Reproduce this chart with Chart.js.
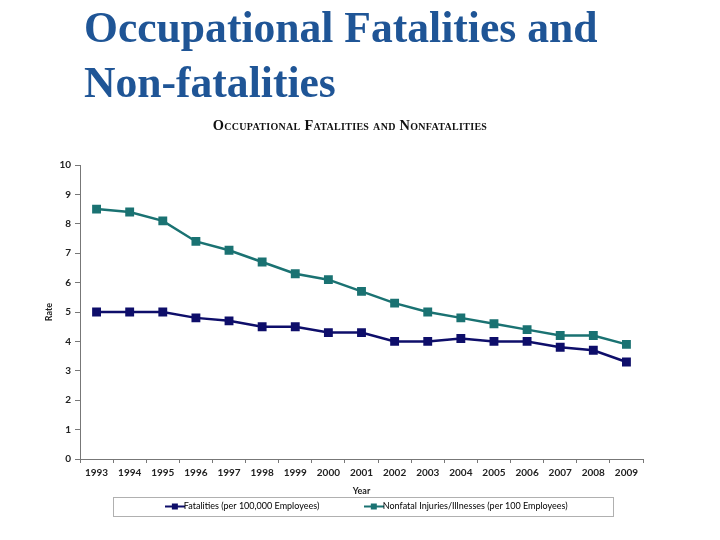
<!DOCTYPE html>
<html>
<head>
<meta charset="utf-8">
<script src="https://cdn.jsdelivr.net/npm/chart.js@4.4.0/dist/chart.umd.min.js"></script>
<style>
  html, body { margin: 0; padding: 0; background: #fff; }
  #wrap { position: relative; width: 720px; height: 540px; overflow: hidden; }
  #bigTitle { position: absolute; left: 84px; top: 0px; font-family: "Liberation Serif", "Times New Roman", serif; font-weight: bold; font-size: 43.6px; line-height: 55px; color: #1F5596; margin: 0; }
  #subTitle { position: absolute; left: 0; width: 700px; text-align: center; top: 117px; font-family: "Liberation Serif", serif; font-weight: bold; font-size: 14.4px; font-variant: small-caps; color: #111; letter-spacing: 0.3px; }
  canvas { position: absolute; left: 0; top: 0; }
</style>
</head>
<body>
<div id="wrap">
  <canvas id="c" width="720" height="540"></canvas>
  <div id="bigTitle">Occupational Fatalities and<br>Non-fatalities</div>
  <div id="subTitle">Occupational Fatalities and Nonfatalities</div>
</div>
<script>
const years = ["1993","1994","1995","1996","1997","1998","1999","2000","2001","2002","2003","2004","2005","2006","2007","2008","2009"];
const fatalities = [5.0,5.0,5.0,4.8,4.7,4.5,4.5,4.3,4.3,4.0,4.0,4.1,4.0,4.0,3.8,3.7,3.3];
const nonfatal = [8.5,8.4,8.1,7.4,7.1,6.7,6.3,6.1,5.7,5.3,5.0,4.8,4.6,4.4,4.2,4.2,3.9];
const seriesNames = ["Fatalities (per 100,000 Employees)", "Nonfatal Injuries/Illnesses (per 100 Employees)"];
const colors = ["#0E0E6A", "#1A7272"];
const LEG_PAD = 50;

function legendIcon(color) {
  const cv = document.createElement('canvas');
  cv.width = 20; cv.height = 8;
  const g = cv.getContext('2d');
  g.strokeStyle = color; g.lineWidth = 2;
  g.beginPath(); g.moveTo(0, 4); g.lineTo(20, 4); g.stroke();
  g.fillStyle = color; g.fillRect(7, 1, 6, 6);
  return cv;
}

const legendPlace = {
  id: 'legendPlace',
  afterLayout(chart) {
    const lg = chart.legend;
    if (!lg) return;
    lg.left = 119; lg.right = 619;
    lg.top = 507 - LEG_PAD - 5;
  },
  afterDraw(chart) {
    const ctx = chart.ctx;
    ctx.save();
    ctx.strokeStyle = '#b0b0b0';
    ctx.lineWidth = 1;
    ctx.strokeRect(113.5, 497.5, 500, 19);
    ctx.restore();
  }
};

new Chart(document.getElementById('c'), {
  type: 'line',
  data: {
    labels: years,
    datasets: [
      { label: seriesNames[0], data: fatalities, borderColor: colors[0], backgroundColor: colors[0], borderWidth: 2.5, pointStyle: 'rect', pointRadius: 4.5, pointHoverRadius: 4.5, tension: 0 },
      { label: seriesNames[1], data: nonfatal, borderColor: colors[1], backgroundColor: colors[1], borderWidth: 2.5, pointStyle: 'rect', pointRadius: 4.5, pointHoverRadius: 4.5, tension: 0 }
    ]
  },
  options: {
    responsive: false,
    animation: false,
    layout: { padding: { top: 165, left: 44, right: 77, bottom: 24 } },
    plugins: {
      title: { display: false },
      tooltip: { enabled: false },
      legend: {
        position: 'bottom',
        maxHeight: 20,
        labels: {
          usePointStyle: true,
          font: { family: 'Lato', size: 9 },
          color: '#333',
          padding: LEG_PAD,
          generateLabels(chart) {
            return chart.data.datasets.map((d, i) => ({
              text: d.label, pointStyle: legendIcon(colors[i]), fillStyle: colors[i], strokeStyle: colors[i], lineWidth: 0, datasetIndex: i, hidden: false
            }));
          }
        }
      }
    },
    scales: {
      x: {
        offset: true,
        border: { color: '#777', width: 1 },
        grid: { display: true, drawOnChartArea: false, drawTicks: true, tickLength: 4, color: '#777', offset: true },
        ticks: { font: { family: 'Lato', size: 10, weight: 'bold' }, color: '#222', maxRotation: 0, autoSkip: false, padding: 4 },
        title: { display: true, text: 'Year', font: { family: 'Lato', size: 9, weight: 'bold' }, color: '#222', padding: { top: 6, bottom: 0 } },
        afterFit(scale) { scale.height = 37; }
      },
      y: {
        min: 0, max: 10,
        border: { color: '#777', width: 1 },
        grid: { display: true, drawOnChartArea: false, drawTicks: true, tickLength: 5, color: '#777' },
        ticks: { stepSize: 1, font: { family: 'Lato', size: 10, weight: 'bold' }, color: '#222', padding: 4 },
        title: { display: true, text: 'Rate', font: { family: 'Lato', size: 9, weight: 'bold' }, color: '#222', padding: { top: 0, bottom: 8 } },
        afterFit(scale) { scale.width = 36; }
      }
    }
  },
  plugins: [legendPlace]
});
</script>
</body>
</html>
